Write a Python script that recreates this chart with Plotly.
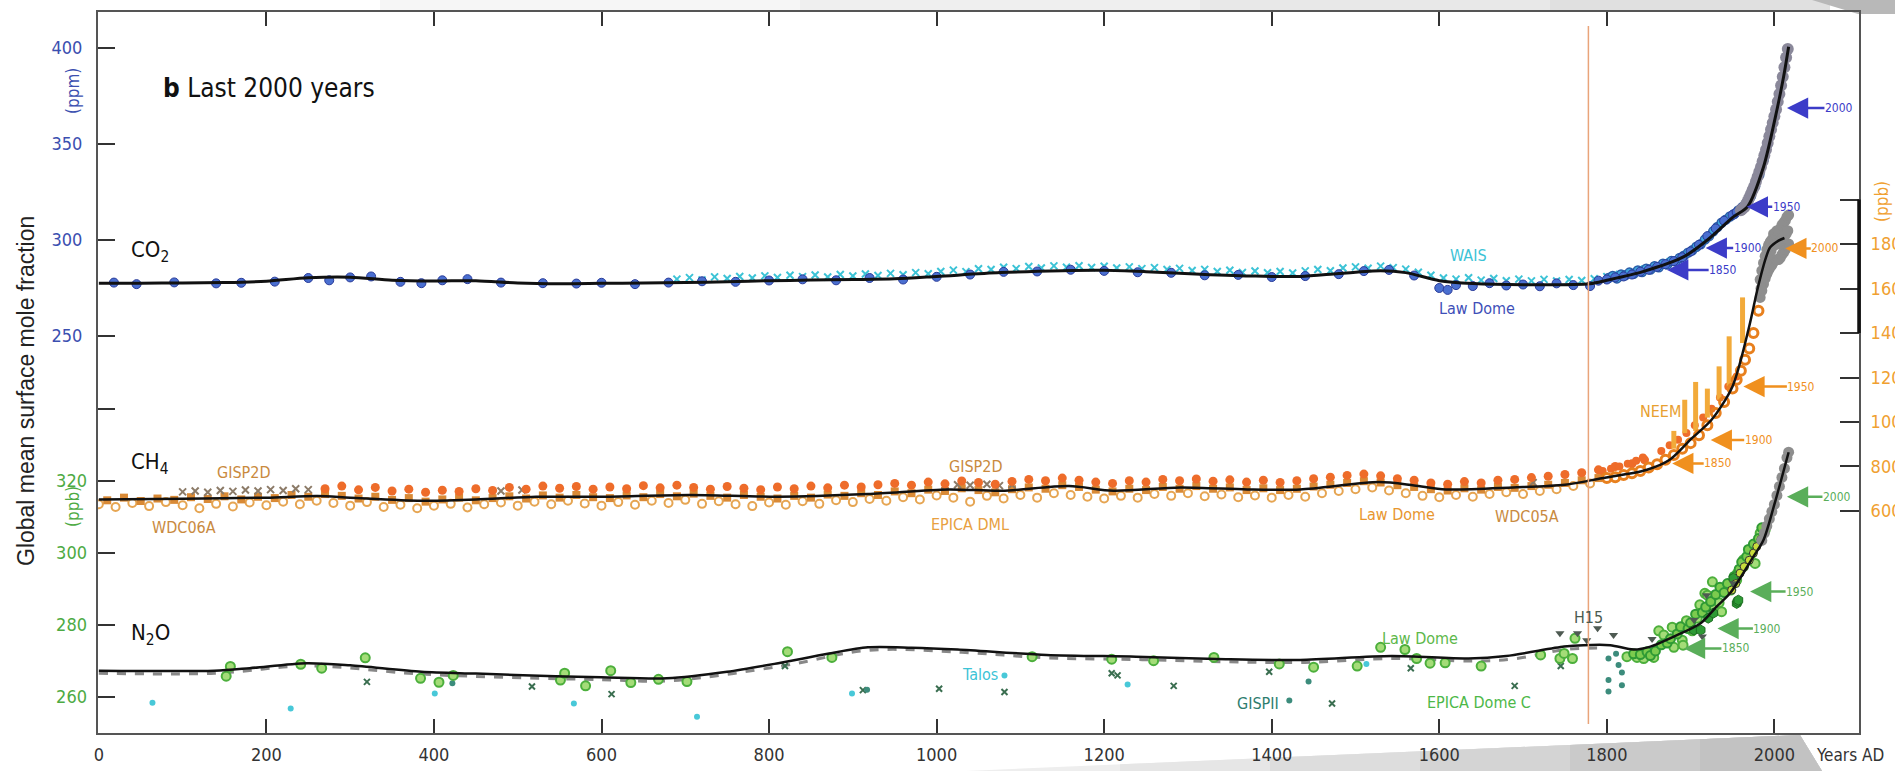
import plotly.graph_objects as go

# ======================= DATA =======================
# ---- CO2 (ppm) ----
CO2_SPLINE = [(0, 277.5), (50, 277.5), (100, 277.6), (150, 277.8), (200, 278.5), (250, 280.3),
              (300, 280.6), (350, 279.0), (400, 278.6), (450, 278.8), (500, 277.6), (550, 277.2),
              (600, 277.4), (650, 277.6), (700, 277.8), (750, 278.3), (800, 278.8), (850, 279.1),
              (900, 279.4), (950, 279.8), (1000, 281.0), (1076, 283.0), (1150, 284.0), (1200, 284.2),
              (1250, 283.5), (1315, 282.2), (1380, 281.2), (1434, 281.0), (1480, 282.5), (1530, 284.0),
              (1560, 283.0), (1600, 278.8), (1640, 277.3), (1700, 276.7), (1780, 277.2), (1800, 279.0),
              (1843, 283.5), (1892, 291.3), (1920, 300.0), (1951, 312.0), (1968, 317.4), (1987, 338.0),
              (2003, 367.7), (2011, 385.0), (2017, 400.7)]

CO2_LAWDOME = [(18, 277.8), (45, 277.0), (90, 277.9), (140, 277.4), (170, 277.7), (210, 278.3),
               (250, 280.2), (275, 279.0), (300, 280.5), (325, 281.0), (360, 278.2), (385, 277.5),
               (410, 279.0), (440, 279.6), (480, 277.8), (530, 277.5), (570, 277.3), (600, 277.7),
               (640, 277.0), (680, 277.8), (720, 278.5), (760, 278.2), (800, 278.9), (840, 279.5),
               (880, 279.0), (920, 280.2), (960, 279.4), (1000, 280.8), (1040, 282.0), (1080, 283.4),
               (1120, 283.6), (1160, 284.5), (1200, 283.9), (1240, 283.2), (1280, 282.9), (1320, 281.6),
               (1360, 281.8), (1400, 280.7), (1440, 281.2), (1480, 282.2), (1510, 283.8), (1540, 284.4),
               (1570, 281.5), (1600, 275.0), (1610, 274.0), (1620, 276.5), (1640, 276.0), (1660, 277.5),
               (1680, 276.3), (1700, 276.8), (1720, 275.9), (1740, 277.4), (1760, 276.5), (1780, 276.0),
               (1790, 278.8), (1800, 279.4), (1810, 280.5), (1820, 281.0), (1830, 282.0), (1840, 283.5),
               (1850, 284.5), (1860, 286.0), (1870, 287.4), (1880, 289.0), (1890, 291.0), (1900, 294.0),
               (1910, 297.5), (1920, 302.0), (1930, 306.0), (1940, 310.0), (1950, 313.0), (1955, 314.5),
               (1960, 316.5), (1965, 318.0), (1970, 321.0), (1975, 327.0), (1980, 333.0), (1985, 340.0)]

CO2_LAWDOME_FIRN = [(1802, 280.2), (1807, 281.3), (1812, 280.0), (1817, 282.0), (1822, 281.6),
                    (1827, 283.0), (1832, 282.4), (1837, 284.1), (1842, 283.3), (1847, 285.0),
                    (1852, 284.6), (1857, 286.3), (1862, 285.8), (1867, 287.6), (1872, 287.2),
                    (1877, 289.0), (1882, 288.9), (1887, 290.6), (1892, 291.8), (1897, 293.4),
                    (1902, 294.6), (1907, 296.5), (1912, 297.8), (1917, 300.2), (1922, 302.0),
                    (1927, 304.5), (1932, 306.8), (1937, 309.0), (1942, 310.6), (1947, 312.2),
                    (1952, 313.5), (1957, 315.4), (1962, 317.2), (1967, 319.5), (1972, 322.8),
                    (1977, 328.0), (1982, 334.0), (1987, 341.5), (1992, 350.0)]

CO2_WAIS = [(690, 279.6), (705, 280.4), (720, 279.2), (735, 280.8), (750, 279.9), (765, 281.0),
            (780, 280.2), (795, 281.3), (810, 280.5), (825, 281.6), (840, 280.9), (855, 281.8),
            (870, 280.7), (885, 282.0), (900, 281.2), (915, 282.3), (930, 281.5), (945, 282.6),
            (960, 281.9), (975, 283.0), (990, 282.4), (1005, 283.6), (1020, 284.3), (1035, 283.5),
            (1050, 285.0), (1065, 284.6), (1080, 285.8), (1095, 285.1), (1110, 286.2), (1125, 285.4),
            (1140, 286.5), (1155, 285.8), (1170, 286.6), (1185, 285.7), (1200, 286.3), (1215, 285.4),
            (1230, 286.0), (1245, 285.1), (1260, 285.6), (1275, 284.6), (1290, 285.2), (1305, 284.1),
            (1320, 284.7), (1335, 283.6), (1350, 284.2), (1365, 283.1), (1380, 283.8), (1395, 282.9),
            (1410, 283.6), (1425, 282.8), (1440, 283.9), (1455, 284.6), (1470, 284.0), (1485, 285.4),
            (1500, 286.0), (1515, 285.3), (1530, 286.4), (1545, 285.6), (1560, 284.8), (1575, 283.2),
            (1590, 281.6), (1605, 280.2), (1620, 279.6), (1635, 280.3), (1650, 279.1), (1665, 279.9),
            (1680, 278.8), (1695, 279.6), (1710, 278.7), (1725, 279.5), (1740, 278.6), (1755, 279.4),
            (1770, 278.9), (1785, 279.8), (1800, 280.9), (1815, 282.0), (1830, 283.2), (1845, 284.8),
            (1860, 286.9), (1875, 288.5), (1890, 291.0)]

CO2_MODERN = [(1960, 315.5), (1962, 316.3), (1964, 317.0), (1966, 318.5), (1968, 320.0), (1970, 322.0),
              (1972, 324.0), (1974, 326.0), (1976, 328.0), (1978, 330.5), (1980, 333.0), (1982, 335.5),
              (1984, 338.0), (1986, 341.0), (1988, 344.0), (1990, 347.0), (1992, 350.5), (1994, 354.0),
              (1996, 357.5), (1998, 361.0), (2000, 364.5), (2002, 368.0), (2004, 372.0), (2006, 376.0),
              (2008, 380.5), (2010, 385.0), (2012, 390.0), (2014, 395.0), (2016, 399.5)]

CO2_MARK_YEARS = ["1850", "1900", "1950", "2000"]
CO2_MARK_VALUES = [284.4, 295.8, 317.3, 368.7]

# ---- CH4 (ppb) ----
CH4_SPLINE = [(0, 652), (100, 655), (200, 660), (261, 667), (300, 660), (385, 646), (450, 652),
              (522, 664), (599, 664), (705, 672), (811, 664), (918, 676), (1014, 697), (1078, 691),
              (1158, 712), (1211, 691), (1291, 706), (1371, 697), (1434, 697), (1528, 730), (1570, 715),
              (1608, 697), (1688, 706), (1750, 718), (1794, 747), (1847, 784), (1875, 830), (1901, 925),
              (1925, 1010), (1950, 1160), (1970, 1430), (1980, 1600), (1990, 1740), (1995, 1785),
              (2005, 1815), (2012, 1827)]

CH4_UPPER = [(270, 700), (290, 712), (310, 695), (330, 706), (350, 690), (370, 698), (390, 684),
             (410, 693), (430, 688), (450, 700), (470, 692), (490, 706), (510, 698), (530, 712),
             (550, 702), (570, 710), (590, 698), (610, 708), (630, 700), (650, 714), (670, 704),
             (690, 716), (710, 706), (730, 698), (750, 710), (770, 702), (790, 696), (810, 708),
             (830, 700), (850, 712), (870, 704), (890, 716), (910, 708), (930, 718), (950, 724),
             (970, 716), (990, 730), (1010, 722), (1030, 735), (1050, 728), (1070, 720), (1090, 733),
             (1110, 742), (1130, 736), (1150, 748), (1170, 738), (1190, 730), (1210, 724), (1230, 736),
             (1250, 730), (1270, 742), (1290, 736), (1310, 744), (1330, 734), (1350, 740), (1370, 730),
             (1390, 738), (1410, 728), (1430, 736), (1450, 745), (1470, 752), (1490, 760), (1510, 766),
             (1530, 758), (1550, 745), (1570, 738), (1590, 726), (1610, 720), (1630, 732), (1650, 726),
             (1670, 738), (1690, 742), (1710, 750), (1730, 756), (1750, 764), (1770, 772), (1790, 785),
             (1810, 800), (1830, 812), (1845, 830)]

CH4_LOWER = [(0, 630), (20, 618), (40, 636), (60, 622), (80, 640), (100, 626), (120, 612), (140, 632),
             (160, 620), (180, 638), (200, 626), (220, 642), (240, 630), (260, 646), (280, 636), (300, 624),
             (320, 640), (340, 618), (360, 628), (380, 612), (400, 624), (420, 632), (440, 616), (460, 630),
             (480, 638), (500, 624), (520, 642), (540, 630), (560, 646), (580, 634), (600, 624), (620, 640),
             (640, 628), (660, 646), (680, 636), (700, 650), (720, 632), (740, 644), (760, 630), (780, 622),
             (800, 638), (820, 628), (840, 644), (860, 632), (880, 648), (900, 640), (920, 654), (940, 646),
             (960, 662), (980, 652), (1000, 670), (1020, 660), (1040, 642), (1060, 668), (1080, 656),
             (1100, 672), (1120, 660), (1140, 680), (1160, 672), (1180, 664), (1200, 656), (1220, 668),
             (1240, 660), (1260, 676), (1280, 668), (1300, 680), (1320, 666), (1340, 674), (1360, 662),
             (1380, 670), (1400, 660), (1420, 672), (1440, 664), (1460, 680), (1480, 690), (1500, 698),
             (1520, 706), (1540, 692), (1560, 680), (1580, 668), (1600, 662), (1620, 672), (1640, 664),
             (1660, 676), (1680, 684), (1700, 676), (1720, 690), (1740, 698), (1760, 712), (1780, 724)]

CH4_MID = [(10, 648), (30, 660), (50, 645), (70, 656), (90, 650), (110, 662), (130, 654), (150, 666),
           (170, 652), (190, 664), (210, 658), (230, 672), (250, 664), (270, 676), (290, 668), (310, 656),
           (330, 664), (350, 650), (370, 658), (390, 642), (410, 652), (430, 660), (450, 648), (470, 658),
           (490, 666), (510, 656), (530, 670), (550, 660), (570, 672), (590, 662), (610, 658), (630, 670),
           (650, 662), (670, 676), (690, 666), (710, 678), (730, 668), (750, 660), (770, 672), (790, 664),
           (810, 656), (830, 668), (850, 660), (870, 674), (890, 668), (910, 680), (930, 672), (950, 688),
           (970, 680), (990, 696), (1010, 690), (1030, 702), (1050, 694), (1070, 684), (1090, 698),
           (1110, 706), (1130, 700), (1150, 716), (1170, 708), (1190, 696), (1210, 688), (1230, 700),
           (1250, 694), (1270, 708), (1290, 700), (1310, 712), (1330, 700), (1350, 706), (1370, 694),
           (1390, 702), (1410, 694), (1430, 700), (1450, 710), (1470, 718), (1490, 726), (1510, 734),
           (1530, 728), (1550, 716), (1570, 708), (1590, 698), (1610, 692), (1630, 702), (1650, 696),
           (1670, 708), (1690, 704), (1710, 712), (1730, 718), (1750, 726), (1770, 738), (1790, 748)]

CH4_GISP2D = [(100, 686), (115, 690), (130, 684), (145, 692), (160, 688), (175, 694), (190, 690),
              (205, 696), (220, 692), (235, 700), (250, 696), (480, 690), (505, 694), (1010, 712),
              (1025, 718), (1040, 716), (1060, 720), (1075, 714), (1090, 718), (1712, 728)]

CH4_LAWDOME = [(1800, 748), (1810, 752), (1820, 762), (1830, 770), (1840, 780), (1850, 795),
               (1860, 810), (1870, 830), (1880, 852), (1890, 880), (1900, 905), (1910, 940),
               (1920, 985), (1930, 1040), (1940, 1090), (1950, 1150), (1955, 1190), (1960, 1230),
               (1965, 1280), (1970, 1330), (1975, 1400), (1981, 1500)]

CH4_NEEM_POINTS = [(1795, 780), (1805, 790), (1815, 800), (1825, 812), (1835, 826), (1843, 840),
                   (1865, 870), (1875, 895), (1885, 920), (1895, 950), (1905, 985), (1915, 1020),
                   (1925, 1060), (1935, 1110), (1945, 1160), (1955, 1205)]
CH4_NEEM_YEARS = [1880, 1893, 1906, 1920, 1934, 1946, 1962]
CH4_NEEM_LOW = [880, 950, 960, 1020, 1100, 1160, 1355]
CH4_NEEM_HIGH = [960, 1100, 1180, 1150, 1250, 1385, 1560]

CH4_MODERN = [(1983, 1640), (1985, 1680), (1987, 1715), (1989, 1745), (1991, 1775), (1993, 1795),
              (1995, 1810), (1997, 1820), (1999, 1845), (2001, 1850), (2003, 1860), (2005, 1858),
              (2007, 1868), (2009, 1885), (2011, 1895), (2013, 1905), (2015, 1922), (2017, 1930),
              (1983, 1560), (1985, 1590), (1987, 1620), (1989, 1645), (1991, 1665), (1993, 1682),
              (1995, 1695), (1997, 1705), (1999, 1722), (2001, 1726), (2003, 1730), (2005, 1730),
              (2007, 1738), (2009, 1752), (2011, 1762), (2013, 1775), (2015, 1792), (2017, 1800),
              (1984, 1600), (1986, 1650), (1988, 1690), (1990, 1720), (1992, 1745), (1994, 1760),
              (1996, 1770), (1998, 1790), (2000, 1795), (2002, 1800), (2004, 1805), (2006, 1800),
              (2008, 1815), (2010, 1825), (2012, 1835), (2014, 1845), (2016, 1860)]

CH4_MARK_YEARS = ["1850", "1900", "1950", "2000"]
CH4_MARK_VALUES = [814, 919, 1159, 1780]

# ---- N2O (ppb) ----
N2O_SPLINE = [(0, 267.3), (138, 267.3), (180, 268.0), (248, 269.4), (300, 268.8), (385, 267.0),
              (450, 266.5), (545, 265.8), (600, 265.5), (678, 265.2), (750, 267.0), (811, 269.4),
              (870, 272.0), (918, 273.8), (970, 273.7), (1025, 273.2), (1131, 271.7), (1238, 271.2),
              (1345, 270.5), (1434, 270.3), (1543, 271.4), (1635, 270.7), (1680, 271.4), (1749, 274.0),
              (1772, 274.4), (1804, 274.4), (1832, 273.2), (1852, 274.0), (1880, 276.8), (1912, 280.5),
              (1931, 285.1), (1947, 288.8), (1975, 299.0), (1987, 303.6), (2000, 313.5), (2017, 328.0)]

N2O_DASHED = [(0, 266.6), (138, 266.6), (250, 268.6), (390, 266.3), (600, 264.8), (680, 264.5),
              (815, 268.6), (920, 273.0), (1030, 272.4), (1130, 270.9), (1240, 270.4), (1345, 269.8),
              (1440, 269.6), (1545, 270.7), (1640, 270.0), (1690, 270.6), (1750, 273.2), (1790, 273.6)]

N2O_LAWDOME = [(152, 265.8), (157, 268.5), (241, 269.1), (266, 268.0), (318, 270.9), (384, 265.2),
               (406, 264.1), (423, 266.0), (551, 264.7), (556, 266.6), (581, 263.1), (611, 267.3),
               (635, 264.0), (668, 264.9), (702, 264.3), (822, 272.6), (875, 271.0), (1114, 271.2),
               (1209, 270.5), (1259, 270.1), (1331, 271.0), (1409, 269.2), (1450, 268.3), (1502, 268.6),
               (1530, 273.8), (1559, 273.2), (1573, 270.7), (1589, 269.4), (1607, 269.5), (1650, 268.6),
               (1721, 271.7), (1744, 270.7), (1749, 272.1), (1759, 270.7), (1762, 276.3), (1824, 271.2),
               (1836, 271.0), (1844, 270.7), (1856, 271.0), (1862, 278.4), (1868, 277.2), (1878, 279.4),
               (1880, 273.8), (1890, 275.8), (1891, 274.4), (1895, 281.2), (1902, 278.4), (1908, 281.9),
               (1911, 285.6), (1917, 288.8), (1920, 288.3), (1926, 292.0), (1928, 285.1), (1934, 286.2),
               (1937, 283.7), (1948, 289.7), (1948, 290.6), (1955, 292.5), (1956, 294.4), (1963, 298.1),
               (1963, 296.2), (1971, 299.9), (1973, 299.9), (1977, 297.1), (1979, 302.7), (1983, 305.5),
               (1989, 306.4)]

N2O_FIRN_CIRCLES = [(1832, 272.0), (1840, 271.8), (1848, 272.6), (1852, 271.5), (1858, 272.8),
                    (1865, 274.5), (1872, 275.0), (1876, 276.2), (1884, 277.5), (1888, 279.5),
                    (1897, 279.0), (1900, 280.6), (1906, 283.0), (1914, 283.5), (1918, 285.0),
                    (1924, 286.5), (1930, 288.5), (1935, 290.5), (1940, 289.0), (1944, 291.5),
                    (1952, 293.5), (1958, 295.5), (1961, 297.5), (1967, 299.0), (1969, 301.0),
                    (1975, 302.5), (1981, 304.0), (1985, 307.0)]

N2O_FIRN = [(1904, 278.6), (1912, 278.6), (1921, 281.9), (1927, 283.3), (1951, 293.0), (1955, 286.0),
            (1956, 286.5), (1957, 286.9)]

N2O_YELLOW = [(1949, 289.7), (1954, 291.5), (1959, 294.4), (1964, 296.2), (1970, 298.0), (1975, 300.0),
              (1979, 301.8), (1984, 303.8), (1988, 305.5)]

N2O_MODERN = [(1985, 303.5), (1988, 305.5), (1991, 307.5), (1994, 309.5), (1997, 311.5), (2000, 313.5),
              (2003, 316.0), (2006, 318.5), (2009, 321.0), (2012, 323.5), (2015, 326.5), (2017, 328.0)]

N2O_TALOS = [(64, 258.4), (229, 256.8), (401, 261.0), (567, 258.2), (714, 254.5), (899, 261.0),
             (1081, 266.0), (1228, 263.5), (1513, 269.2)]

N2O_EDC = [(320, 264.2), (517, 262.9), (612, 260.8), (819, 268.6), (912, 261.9), (1003, 262.3),
           (1081, 261.4), (1209, 266.6), (1216, 266.0), (1283, 263.1), (1397, 267.0), (1472, 258.2),
           (1566, 268.0), (1690, 263.1), (1745, 268.6)]

N2O_GISPII = [(422, 263.8), (917, 262.0), (1421, 259.0), (1444, 264.3), (1802, 270.7), (1802, 264.7),
              (1802, 261.5), (1811, 272.0), (1814, 268.9), (1818, 266.8), (1818, 263.3)]

N2O_H15 = [(1744, 277.7), (1765, 277.7), (1776, 275.8), (1789, 279.1), (1808, 277.2), (1854, 276.1),
           (1904, 281.4), (1914, 276.8), (1919, 288.3), (1951, 291.6)]

N2O_MARK_YEARS = ["1850", "1900", "1950", "2000"]
N2O_MARK_VALUES = [273.5, 279.0, 289.3, 315.6]

X_TICKS = [0, 200, 400, 600, 800, 1000, 1200, 1400, 1600, 1800, 2000]
CO2_TICKS = [250, 300, 350, 400]
N2O_TICKS = [260, 280, 300, 320]
N2O_MINOR_TICKS = [340]
CH4_TICKS = [600, 800, 1000, 1200, 1400, 1600, 1800]
CH4_MINOR_TICKS = [2000]
VLINE_YEAR = 1778

# ======================= STYLE / LAYOUT =======================
NARROW = "DejaVu Sans Condensed, DejaVu Sans, sans-serif"
SANS = "Liberation Sans, Arial, sans-serif"
W, H = 1895, 771
ML, MR, MT, MB = 98, 36, 12, 38
PW, PH = W - ML - MR, H - MT - MB

BLUE = "#3B4FB0"
CYAN = "#3CC3D6"
ORANGE = "#F0A030"
GREEN = "#4DAA43"


def px(xp, yp):
    return (xp - ML) / PW, (H - MB - yp) / PH


def xs(pairs):
    return [p[0] for p in pairs]


def ys(pairs):
    return [p[1] for p in pairs]


fig = go.Figure()


def add_markers(pairs, yaxis, color, size, symbol="circle", line_color=None, line_width=0, opacity=1.0):
    fig.add_trace(go.Scatter(
        x=xs(pairs), y=ys(pairs), yaxis=yaxis, mode="markers", opacity=opacity,
        marker=dict(color=color, size=size, symbol=symbol,
                    line=dict(color=line_color or color, width=line_width)),
        hoverinfo="skip", showlegend=False))


def add_line(pairs, yaxis, color, width, dash="solid", smoothing=1.0):
    fig.add_trace(go.Scatter(
        x=xs(pairs), y=ys(pairs), yaxis=yaxis, mode="lines",
        line=dict(color=color, width=width, dash=dash, shape="spline", smoothing=smoothing),
        hoverinfo="skip", showlegend=False))


# ---- CH4 (y3) ----
add_markers(CH4_LOWER, "y3", "#E6A552", 8, "circle-open", line_width=2)
add_markers(CH4_MID, "y3", "#D98A36", 8, "square")
add_markers(CH4_GISP2D, "y3", "#8C7B68", 7, "x-thin-open", line_width=2)
add_markers(CH4_UPPER, "y3", "#EE6C2A", 9, "circle")
add_markers(CH4_NEEM_POINTS, "y3", "#EE6C2A", 8, "circle")
nx, ny = [], []
for yr, lo, hi in zip(CH4_NEEM_YEARS, CH4_NEEM_LOW, CH4_NEEM_HIGH):
    nx += [yr, yr, None]
    ny += [lo, hi, None]
fig.add_trace(go.Scatter(x=nx, y=ny, yaxis="y3", mode="lines",
                         line=dict(color="#F2AA3A", width=5), hoverinfo="skip", showlegend=False))
add_markers(CH4_LAWDOME, "y3", "#E8801E", 9, "circle-open", line_width=3)
add_markers(CH4_MODERN, "y3", "#8E8E8E", 11, "circle")
add_line(CH4_SPLINE, "y3", "#111111", 2.5, smoothing=0.8)

# ---- CO2 (y) ----
add_markers(CO2_WAIS, "y", CYAN, 7, "x-thin-open", line_width=2)
add_markers(CO2_LAWDOME_FIRN, "y", "#3FA6DC", 9, "circle", line_color="#2A5CA8", line_width=1.5)
add_markers(CO2_LAWDOME, "y", "#4A6FD0", 9, "circle", line_color="#2A3C9A", line_width=1)
add_markers(CO2_MODERN, "y", "#8A889A", 12, "circle")
add_line(CO2_SPLINE, "y", "#111111", 3, smoothing=0.8)

# ---- N2O (y2) ----
add_line(N2O_DASHED, "y2", "#888888", 3, dash="dash")
add_markers(N2O_TALOS, "y2", "#48C8D8", 6, "circle")
add_markers(N2O_EDC, "y2", "#3A6E50", 6, "x-thin-open", line_width=2)
add_markers(N2O_GISPII, "y2", "#3C8C7C", 6, "circle")
add_markers(N2O_LAWDOME, "y2", "#A4DC78", 9, "circle", line_color="#4CAF3C", line_width=2)
add_markers(N2O_FIRN_CIRCLES, "y2", "#7CCB4E", 9, "circle", line_color="#2F9A35", line_width=2)
add_markers(N2O_FIRN, "y2", "#2E9A35", 10, "hexagon", line_color="#1E6E22", line_width=1)
add_markers(N2O_YELLOW, "y2", "#C8DC3C", 8, "circle", line_color="#333333", line_width=1)
add_markers(N2O_H15, "y2", "#4E5A52", 8, "triangle-down")
add_markers(N2O_MODERN, "y2", "#8E8E8E", 11, "circle")
add_line(N2O_SPLINE, "y2", "#111111", 2.5, smoothing=0.8)

# ---- annotations ----
ann = []


def text(t, xp, yp, color, size, family=NARROW, angle=0, xanchor="center"):
    x, y = px(xp, yp)
    ann.append(dict(text=t, x=x, y=y, xref="paper", yref="paper", showarrow=False,
                    xanchor=xanchor, yanchor="middle", textangle=angle,
                    font=dict(family=family, size=size, color=color)))


text("<b>b</b> Last 2000 years", 161, 88, "#111111", 26, xanchor="left")
text("CO<sub>2</sub>", 129, 252, "#111111", 22, xanchor="left")
text("CH<sub>4</sub>", 129, 464, "#111111", 22, xanchor="left")
text("N<sub>2</sub>O", 129, 634, "#111111", 22, xanchor="left")
text("Global mean surface mole fraction", 26, 391, "#222222", 23, family=SANS, angle=-90)
text("(ppm)", 73, 91, BLUE, 17, angle=-90)
text("(ppb)", 73, 507, GREEN, 17, angle=-90)
text("(ppb)", 1882, 201, ORANGE, 17, angle=-90)
text("Years AD", 1850, 755, "#333333", 17)

LABELS = [("WAIS", 1468, 256, CYAN), ("Law Dome", 1477, 308, "#3E4FB8"),
          ("GISP2D", 243, 473, "#C98A3E"), ("WDC06A", 184, 527, "#C98A3E"),
          ("GISP2D", 975, 467, "#C98A3E"), ("EPICA DML", 970, 524, "#E8A040"),
          ("Law Dome", 1397, 514, "#E8962E"), ("WDC05A", 1527, 516, "#C98A3E"),
          ("NEEM", 1660, 411, "#E8A030"), ("Talos", 980, 674, CYAN),
          ("GISPII", 1258, 703, "#2E7D6E"), ("Law Dome", 1420, 638, "#5DB84A"),
          ("EPICA Dome C", 1479, 702, "#4DB848"), ("H15", 1588, 617, "#4A5A50")]
for t, xp_, yp_, c in LABELS:
    text(t, xp_, yp_, c, 16)

# year arrows: tip x position (year on axis) and pixel offset to the label are layout choices
ARROW_LAYOUT = {
    "y": ([1872, 1918, 1967, 2015], [56, 42, 40, 52], "#3C3CC8"),
    "y3": ([1878, 1924, 1963, 2013], [46, 48, 58, 40], "#F0901E"),
    "y2": ([1892, 1932, 1971, 2015], [52, 50, 50, 50], "#5AAE5A"),
}
for yref, labels, vals in (("y", CO2_MARK_YEARS, CO2_MARK_VALUES),
                           ("y3", CH4_MARK_YEARS, CH4_MARK_VALUES),
                           ("y2", N2O_MARK_YEARS, N2O_MARK_VALUES)):
    tips, offs, col = ARROW_LAYOUT[yref]
    for lab, v, tx, off in zip(labels, vals, tips, offs):
        ann.append(dict(text=lab, x=tx, y=v, xref="x", yref=yref, showarrow=True,
                        ax=off, ay=0, arrowhead=2, arrowsize=1.7, arrowwidth=2.5,
                        arrowcolor=col, standoff=0, borderpad=0,
                        font=dict(family=NARROW, size=12, color=col)))

# ---- background decoration shapes (slide shading) ----
shapes = []


def poly(points, color):
    path = "M " + " L ".join("%.5f,%.5f" % px(a, b) for a, b in points) + " Z"
    shapes.append(dict(type="path", path=path, xref="paper", yref="paper",
                       fillcolor=color, line=dict(width=0), layer="below"))


def band_top(xp):
    return 771 - (771 - 735) * (xp - 966) / (1800 - 966)


for x0, col in ((966, "#EEEEEE"), (1120, "#E6E6E6"), (1270, "#DDDDDD"), (1420, "#D4D4D4"),
                (1570, "#CACACA"), (1700, "#C2C2C2")):
    poly([(x0, 771), (x0, band_top(x0)), (1800, 735), (1822, 771)], col)
for x0, col in ((380, "#F6F6F6"), (800, "#EFEFEF"), (1200, "#E8E8E8"), (1550, "#E0E0E0")):
    poly([(x0, 0), (1830, 0), (1830, 10), (x0, 10)], col)
poly([(1812, 0), (1895, 0), (1895, 14), (1858, 14)], "#B8B8B8")

# vertical marker line at ~1780
shapes.append(dict(type="line", xref="x", yref="paper", x0=VLINE_YEAR, x1=VLINE_YEAR,
                   y0=px(0, 724)[1], y1=px(0, 26)[1], line=dict(color="#E9A47A", width=1.5)))
# right-axis bracket between 1400 and 2000 ppb
shapes.append(dict(type="line", xref="paper", yref="y3", x0=1, x1=1, y0=1400, y1=2000,
                   line=dict(color="#111111", width=3.5)))

AXCOL = "#555555"
TICKCOL = "#333333"
fig.update_layout(
    width=W, height=H, autosize=False,
    margin=dict(l=ML, r=MR, t=MT, b=MB, pad=0, autoexpand=False),
    paper_bgcolor="white", plot_bgcolor="rgba(0,0,0,0)",
    showlegend=False,
    annotations=ann, shapes=shapes,
    xaxis=dict(range=[-1, 2101], tickvals=X_TICKS, ticks="inside", ticklen=14, tickwidth=2,
               tickcolor=TICKCOL, showline=True, linecolor=AXCOL, linewidth=2, mirror="ticks",
               showgrid=False, zeroline=False, ticklabelstandoff=4, automargin=False,
               tickfont=dict(family=NARROW, size=18, color="#333333")),
    yaxis=dict(range=[43.2, 418.75], tickvals=CO2_TICKS, ticks="inside", ticklen=17, tickwidth=2,
               tickcolor=TICKCOL, showline=True, linecolor=AXCOL, linewidth=2,
               showgrid=False, zeroline=False, ticklabelstandoff=10, automargin=False,
               tickfont=dict(family=NARROW, size=18, color=BLUE)),
    yaxis2=dict(range=[250, 450.3], overlaying="y", side="left", tickvals=N2O_TICKS,
                ticks="inside", ticklen=17, tickwidth=2, tickcolor=TICKCOL,
                minor=dict(tickvals=N2O_MINOR_TICKS, ticks="inside", ticklen=17, tickwidth=2,
                           tickcolor=TICKCOL, showgrid=False),
                showline=False, showgrid=False, zeroline=False, ticklabelstandoff=10,
                automargin=False, tickfont=dict(family=NARROW, size=18, color=GREEN)),
    yaxis3=dict(range=[-397.8, 2842.7], overlaying="y", side="right", tickvals=CH4_TICKS,
                ticks="inside", ticklen=19, tickwidth=2, tickcolor=TICKCOL,
                minor=dict(tickvals=CH4_MINOR_TICKS, ticks="inside", ticklen=19, tickwidth=2,
                           tickcolor=TICKCOL, showgrid=False),
                showline=True, linecolor=AXCOL, linewidth=2, showgrid=False, zeroline=False,
                ticklabelstandoff=6, automargin=False,
                tickfont=dict(family=NARROW, size=18, color=ORANGE)),
)

fig.write_html("out.html", config={"displayModeBar": False},
               post_script="document.body.style.margin='0px';")
